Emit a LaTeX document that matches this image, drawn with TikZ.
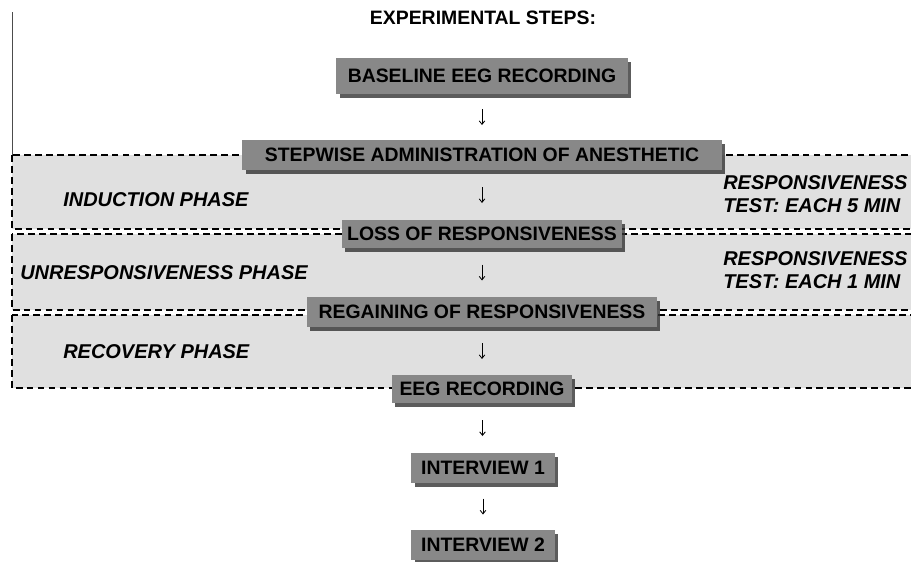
\documentclass[tikz,border=0pt]{standalone}
\usepackage{fontspec}
\setmainfont{Liberation Sans}
\usetikzlibrary{calc,arrows.meta,shadows}
\definecolor{boxgray}{RGB}{136, 136, 136}
\definecolor{phasegray}{RGB}{224, 224, 224}

\tikzset{
  stepbox/.style={fill=boxgray, inner sep=0pt, align=center,
    font=\bfseries\fontsize{13.8}{16}\selectfont,
    drop shadow={shadow xshift=2.2pt, shadow yshift=-3pt, opacity=.8, fill=black!80}},
  phase/.style={fill=phasegray, draw=black, line width=1.5pt, dash pattern=on 4.8pt off 3pt},
  phaselabel/.style={anchor=west, align=left, inner sep=0pt,
    font=\bfseries\itshape\fontsize{14.2}{16.5}\selectfont},
  flow/.style={-{Straight Barb[length=2.5pt, width=4pt]}, line width=0.6pt},
}

\begin{document}
\begin{tikzpicture}[x=0.025cm, y=-0.025cm]
  \useasboundingbox (0,0) rectangle (911,561);
  \clip (0,0) rectangle (911,561);

  % Phases
  \draw[phase] (12,155) rectangle (940,229);
  \draw[phase] (12,234) rectangle (940,310);
  \draw[phase] (12,315) rectangle (940,388);
  \draw[black!70, line width=0.7pt] (12,12) -- (12,155);

  % Title
  \node[font=\bfseries\fontsize{13.8}{16}\selectfont] (title) at (483,18) {EXPERIMENTAL STEPS:};

  % Steps
  \node[stepbox, minimum width=7.275cm, minimum height=0.9cm] (b1) at (482,76) {BASELINE EEG RECORDING};
  \node[stepbox, minimum width=11.975cm, minimum height=0.75cm] (b2) at (482,155) {STEPWISE ADMINISTRATION OF ANESTHETIC};
  \node[stepbox, minimum width=7cm, minimum height=0.7cm] (b3) at (482,234) {LOSS OF RESPONSIVENESS};
  \node[stepbox, minimum width=8.75cm, minimum height=0.75cm] (b4) at (482,312) {REGAINING OF RESPONSIVENESS};
  \node[stepbox, minimum width=4.5cm, minimum height=0.7cm] (b5) at (482,389) {EEG RECORDING};
  \node[stepbox, minimum width=3.575cm, minimum height=0.75cm] (i1) at (483,468) {INTERVIEW 1};
  \node[stepbox, minimum width=3.575cm, minimum height=0.75cm] (i2) at (483,545) {INTERVIEW 2};

  \foreach \a/\b in {b1/b2, b2/b3, b3/b4, b4/b5, b5/i1, i1/i2}
    \draw[flow] ($(\a.south)!.5!(\b.north)$) ++(0,-8) -- ++(0,16);

  % Phase labels
  \node[phaselabel] (induction) at (63,200) {INDUCTION PHASE};
  \node[phaselabel] (unresp) at (20,273) {UNRESPONSIVENESS PHASE};
  \node[phaselabel] (recovery) at (63,352) {RECOVERY PHASE};
  \node[phaselabel] (test5) at (723,194) {RESPONSIVENESS\\TEST: EACH 5 MIN};
  \node[phaselabel] (test1) at (723,270) {RESPONSIVENESS\\TEST: EACH 1 MIN};
\end{tikzpicture}
\end{document}
